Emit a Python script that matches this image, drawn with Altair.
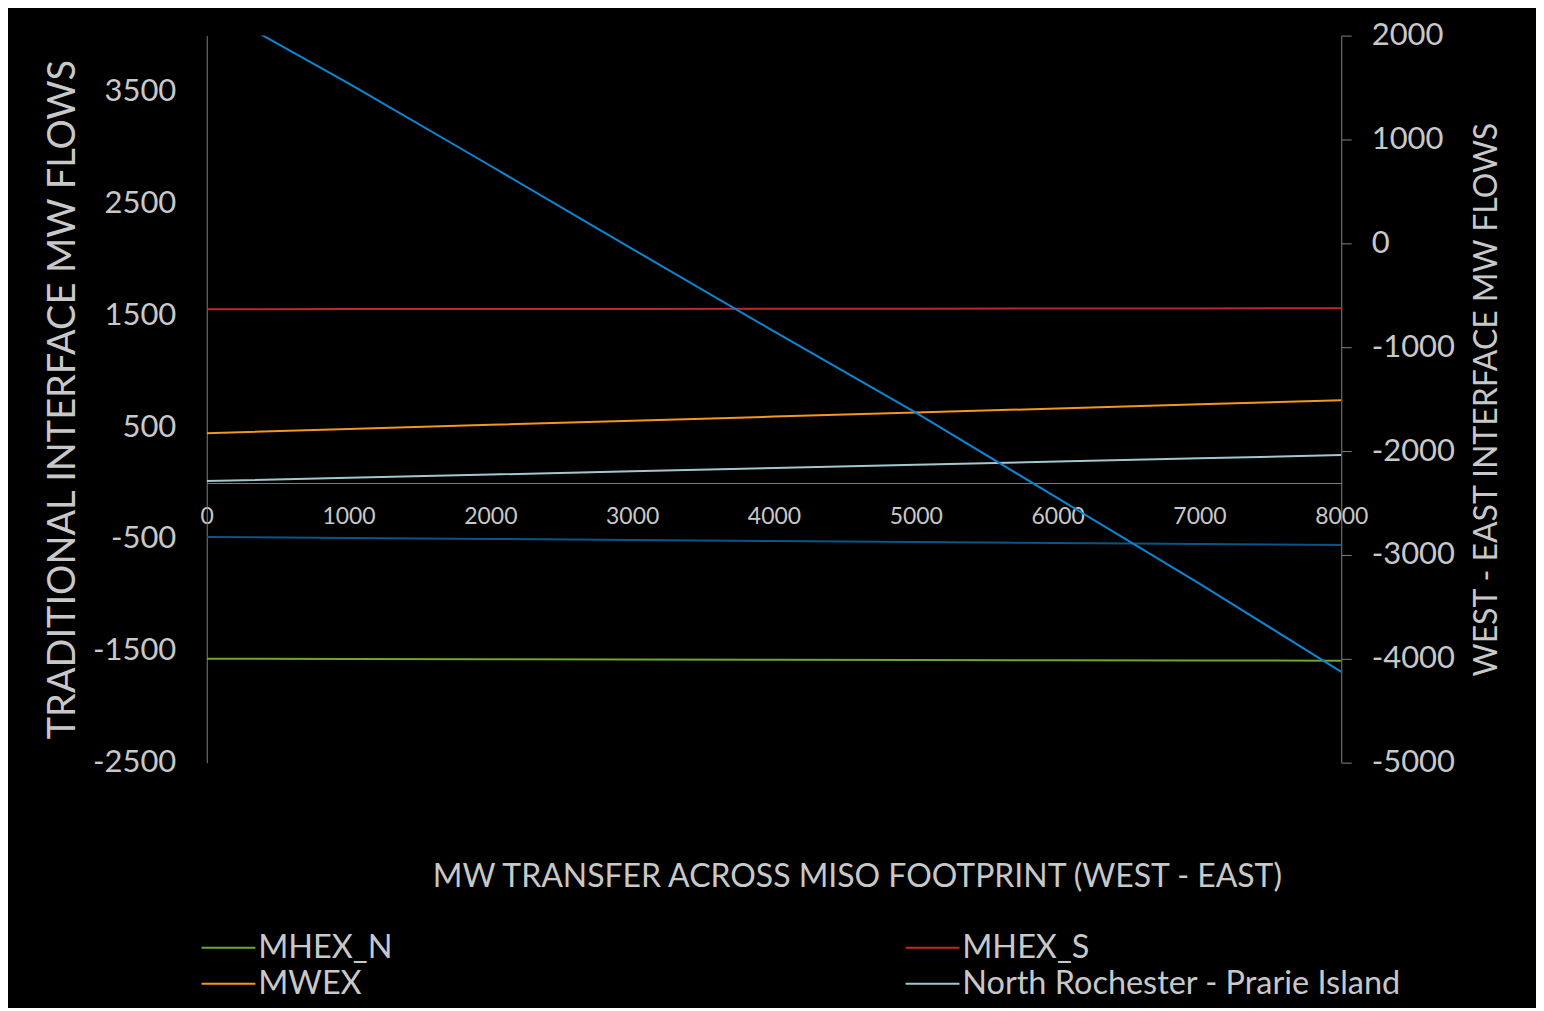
import altair as alt
import pandas as pd

# MW transfer across MISO footprint (x axis)
transfer = [0, 1000, 2000, 3000, 4000, 5000, 6000, 7000, 8000]

# Traditional interface flows (left axis)
mhex_n = [-1571, -1573, -1575, -1577, -1579, -1582, -1584, -1586, -1589]
mhex_s = [1554, 1555, 1556, 1557, 1558, 1559, 1560, 1561, 1562]
mwex = [446, 483, 520, 557, 594, 630, 667, 704, 741]
nrpi = [18, 47, 76, 105, 134, 163, 192, 221, 250]
other = [-482, -491, -500, -509, -518, -527, -536, -545, -554]

# West - East interface flows (right axis)
west_east = [2303, 1540, 747, -53, -848, -1630, -2453, -3277, -4125]

# order chosen so that the 2-column legend reads row by row like the original
series_names = ["MHEX_N", "MWEX", "MHEX_S", "North Rochester - Prarie Island", "Other"]
series_values = [mhex_n, mwex, mhex_s, nrpi, other]
series_colors = ["#6aa832", "#f5961e", "#c0272d", "#a0c8ce", "#0a5586"]

left_ticks = [-2500, -1500, -500, 500, 1500, 2500, 3500]
right_ticks = [-5000, -4000, -3000, -2000, -1000, 0, 1000, 2000]

rows = []
for name, vals in zip(series_names, series_values):
    for t, v in zip(transfer, vals):
        rows.append({"transfer": t, "series": name, "value": v})
left_df = pd.DataFrame(rows)
right_df = pd.DataFrame({"transfer": transfer, "west_east": west_east})

TXT = "#c8c8c8"
AX = "#808080"
LBL = "toString(datum.value)"

xscale = alt.Scale(domain=[0, 8000], nice=False, zero=False)
xaxis = alt.Axis(values=transfer, offset=-280, ticks=False, labelPadding=23,
                 labelFontSize=23, labelColor=TXT, domainColor=AX, labelExpr=LBL,
                 title="MW TRANSFER ACROSS MISO FOOTPRINT (WEST - EAST)",
                 titleFontSize=32, titleColor=TXT, titleFont="Lato",
                 titleFontWeight="normal", titleX=651, titleY=394,
                 titleBaseline="middle", titleAlign="center",
                 labelFlush=False, labelOverlap=False)

left = alt.Chart(left_df).mark_line(strokeWidth=2, clip=True).encode(
    x=alt.X("transfer:Q", scale=xscale, axis=xaxis),
    y=alt.Y("value:Q", scale=alt.Scale(domain=[-2500, 4000], nice=False, zero=False),
            axis=alt.Axis(orient="left", values=left_ticks, ticks=False, labelPadding=31,
                          labelFontSize=31, labelColor=TXT, domainColor=AX, labelExpr=LBL,
                          title="TRADITIONAL INTERFACE MW FLOWS", titleFontSize=38,
                          titleColor=TXT, titleFont="Lato", titleFontWeight="normal",
                          titleAngle=-90, titleX=-143, titleY=364,
                          titleBaseline="middle", titleAlign="center",
                          labelOverlap=False)),
    color=alt.Color("series:N",
                    scale=alt.Scale(domain=series_names, range=series_colors),
                    legend=alt.Legend(values=series_names[:4], orient="none",
                                      legendX=-8, legendY=897, columns=2,
                                      title=None, symbolType="M-1,0H3", symbolSize=729,
                                      symbolStrokeWidth=2, labelOffset=27,
                                      labelFontSize=32.5, labelColor=TXT, labelFont="Lato",
                                      labelLimit=700, columnPadding=508, rowPadding=3)),
    detail="series:N",
)

right = alt.Chart(right_df).mark_line(strokeWidth=2, color="#0b86d2", clip=True).encode(
    x=alt.X("transfer:Q", scale=xscale, axis=xaxis),
    y=alt.Y("west_east:Q", scale=alt.Scale(domain=[-5000, 2000], nice=False, zero=False),
            axis=alt.Axis(orient="right", values=right_ticks, tickSize=10, tickColor=AX,
                          labelPadding=20, labelFontSize=31, labelColor=TXT, domainColor=AX,
                          labelExpr=LBL,
                          title="WEST - EAST INTERFACE MW FLOWS", titleFontSize=32,
                          titleColor=TXT, titleFont="Lato", titleFontWeight="normal",
                          titleAngle=-90, titleX=145, titleY=364,
                          titleBaseline="middle", titleAlign="center",
                          labelOverlap=False)),
)

chart = alt.layer(left, right).resolve_scale(y="independent").properties(
    width=1136, height=728,
    autosize=alt.AutoSizeParams(type="none"),
    padding={"left": 199, "top": 27, "right": 195, "bottom": 245},
    background="black",
).configure_view(stroke=None).configure_axis(
    grid=False, labelFont="Lato", titleFont="Lato"
)

chart.save("out.html", embed_options={"renderer": "svg", "actions": False})
